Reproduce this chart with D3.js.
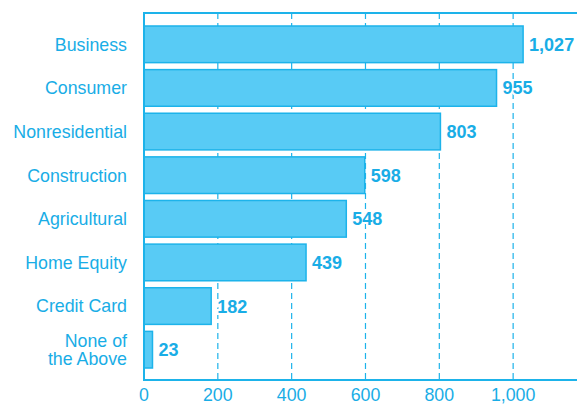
<!DOCTYPE html>
<html>
<head>
<meta charset="utf-8">
<script src="https://cdn.jsdelivr.net/npm/d3@7"></script>
<style>
  body { margin: 0; background: #fff; }
  svg { display: block; font-family: "Liberation Sans", Arial, sans-serif; }
</style>
</head>
<body>
<svg id="chart" width="577" height="405"></svg>
<script>
const categories = ['Business', 'Consumer', 'Nonresidential', 'Construction', 'Agricultural', 'Home Equity', 'Credit Card', 'None of|the Above']
const values = [1027, 955, 803, 598, 548, 439, 182, 23]
const ticks = [0, 200, 400, 600, 800, 1000]

const textColor = '#19ADE6'
const barFill = '#58CBF5'
const barStroke = '#1DB3EA'

const m = { left: 144, right: 577, top: 13, bottom: 380 }
const svg = d3.select('#chart')

const x = d3.scaleLinear().domain([0, 1173]).range([m.left, m.right])
const y = d3.scaleBand().domain(categories).range([22.5, 371.5]).paddingInner(0.16).paddingOuter(0.08)

// dashed grid
svg.append('g').selectAll('line')
  .data(ticks.filter(t => t > 0))
  .enter().append('line')
    .attr('x1', d => x(d)).attr('x2', d => x(d))
    .attr('y1', m.top).attr('y2', m.bottom)
    .attr('stroke', barStroke)
    .attr('stroke-width', 1.2)
    .attr('stroke-dasharray', '6,4')

// bars
svg.append('g').selectAll('rect')
  .data(values)
  .enter().append('rect')
    .attr('x', x(0))
    .attr('y', (d, i) => y(categories[i]))
    .attr('width', d => x(d) - x(0))
    .attr('height', y.bandwidth())
    .attr('fill', barFill)
    .attr('stroke', barStroke)
    .attr('stroke-width', 1.5)

// frame
svg.append('path')
  .attr('d', `M${m.right},${m.top}H${m.left}V${m.bottom}H${m.right}`)
  .attr('fill', 'none')
  .attr('stroke', barStroke)
  .attr('stroke-width', 2)

// value labels (white halo hides grid behind text)
svg.append('g').selectAll('text')
  .data(values)
  .enter().append('text')
    .attr('x', d => x(d) + 6)
    .attr('y', (d, i) => y(categories[i]) + y.bandwidth() / 2)
    .attr('dy', '0.36em')
    .attr('fill', textColor)
    .attr('stroke', '#fff')
    .attr('stroke-width', 4)
    .attr('paint-order', 'stroke')
    .attr('font-weight', 'bold')
    .attr('font-size', 18)
    .text(d => d3.format(',')(d))

// category labels, split on '|' into separate lines
const catG = svg.append('g')
categories.forEach(d => {
  const lines = d.split('|')
  const lh = 18
  const cy = y(d) + y.bandwidth() / 2
  lines.forEach((s, i) => {
    catG.append('text')
      .attr('x', 127)
      .attr('y', cy + (i - (lines.length - 1) / 2) * lh)
      .attr('dy', '0.36em')
      .attr('text-anchor', 'end')
      .attr('fill', textColor)
      .attr('font-size', 17.8)
      .text(s)
  })
})

// x axis labels
svg.append('g').selectAll('text')
  .data(ticks)
  .enter().append('text')
    .attr('x', d => x(d))
    .attr('y', 401)
    .attr('text-anchor', 'middle')
    .attr('fill', textColor)
    .attr('font-size', 17.8)
    .text(d => d3.format(',')(d))
</script>
</body>
</html>
